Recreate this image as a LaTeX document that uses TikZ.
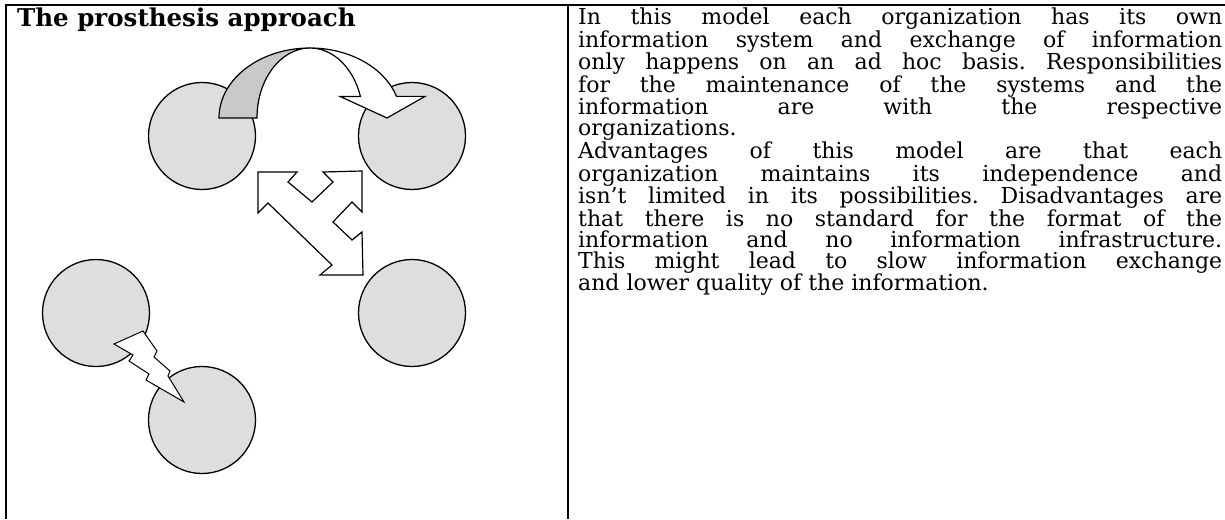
\documentclass[tikz,border=0pt]{standalone}
\usepackage{fontspec}
\setmainfont{DejaVu Serif}
\usetikzlibrary{positioning}
\definecolor{orggray}{gray}{0.87}
\definecolor{bandgray}{gray}{0.79}
\tikzset{
  org/.style={circle, draw, line width=1.3pt, fill=orggray, minimum size=107pt, inner sep=0pt},
  blockarrow/.style={draw, line width=1.2pt, fill=white, line join=miter},
}
\hbadness=10000
\frenchspacing

\begin{document}
\begin{tikzpicture}[x=1pt,y=1pt]
    \useasboundingbox (0,0) rectangle (1225,-519);

    % table rules
    \draw [line width=2pt] (5,-5) -- (1225,-5);
    \draw [line width=2.5pt] (6,-4) -- (6,-519);
    \draw [line width=1.5pt] (568,-5) -- (568,-519);

    \node [anchor=base west, inner sep=0pt] (title) at (17,-27) {\fontsize{24.5}{26}\selectfont\bfseries The prosthesis approach};

    % organizations
    \node [org] (ca) at (202,-136) {};
    \node [org] (cb) at (412,-136) {};
    \node [org] (cc) at (412,-313) {};
    \node [org] (cd) at (96,-313) {};
    \node [org] (ce) at (202,-420) {};

    % curved arrow, back part
    \filldraw [fill=bandgray, line width=1.2pt] (219,-118)
        arc [start angle=180, end angle=90, x radius=91, y radius=70]
        arc [start angle=90, end angle=180, x radius=53, y radius=70] -- cycle;
    % curved arrow, front part with head
    \draw [blockarrow] (310,-48)
        arc [start angle=90, end angle=18, x radius=91, y radius=70]
        -- (425,-96.4) -- (387,-118) -- (340,-96.4) -- (360.4,-96.4)
        arc [start angle=18, end angle=90, x radius=53, y radius=70] -- cycle;

    % three-way arrow
    \draw [blockarrow] (258,-172) -- (297,-172) -- (288,-182) -- (312,-202)
        -- (333,-182) -- (323,-172) -- (362,-171) -- (362,-212) -- (352,-202)
        -- (333,-222) -- (352,-240) -- (362,-232) -- (363,-275) -- (320,-275)
        -- (332,-265) -- (268,-203) -- (258,-213) -- cycle;

    % lightning
    \draw [blockarrow, line width=1pt] (143,-331) -- (114,-344) -- (133,-355) -- (129,-361)
        -- (149,-374) -- (146,-380) -- (184,-402) -- (168,-376) -- (170,-371)
        -- (154,-357) -- (157,-351) -- cycle;

    \node [anchor=north west, inner sep=0pt, text width=644pt, align=justify,
        font=\fontsize{22}{21}\selectfont] (desc) at (578,-7.5) {\noindent
        In this model each organization has its own\linebreak
        information system and exchange of information\linebreak
        only happens on an ad hoc basis. Responsibilities\linebreak
        for the maintenance of the systems and the\linebreak
        information are with the respective\linebreak
        organizations.\\
        Advantages of this model are that each\linebreak
        organization maintains its independence and\linebreak
        isn’t limited in its possibilities. Disadvantages are\linebreak
        that there is no standard for the format of the\linebreak
        information and no information infrastructure.\linebreak
        This might lead to slow information exchange\linebreak
        and lower quality of the information.};
\end{tikzpicture}
\end{document}
